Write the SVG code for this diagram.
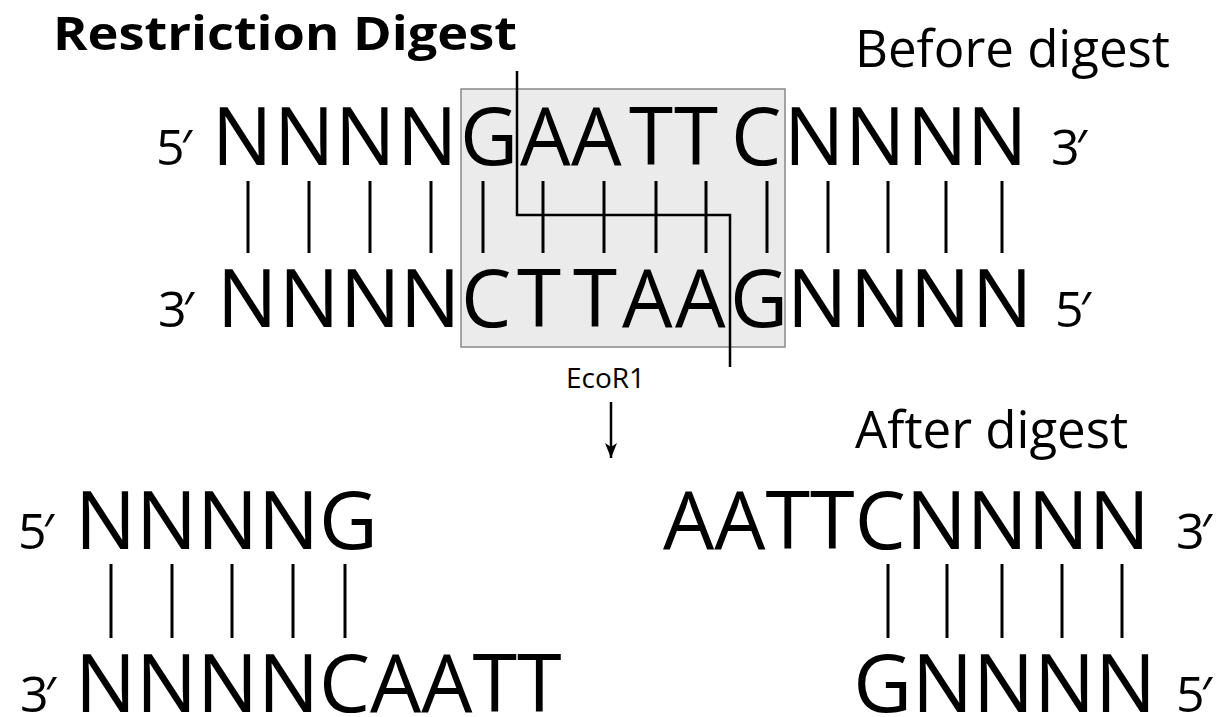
<svg xmlns="http://www.w3.org/2000/svg" width="1224" height="717" viewBox="0 0 1224 717">
<style>
  text { font-family: "Open Sans", "Liberation Sans", sans-serif; fill: #000; }
  .title { font-size: 47px; font-weight: 700; }
  .head { font-size: 51px; }
  .seq { font-size: 80px; }
  .seqb { font-size: 81px; }
  .end { font-size: 50px; }
  .lab { font-size: 28px; }
  .bar { stroke: #000; stroke-width: 3; }
  .cut { fill: none; stroke: #000; stroke-width: 2.5; }
</style>
<defs>
  <marker id="ah" markerWidth="16" markerHeight="14" refX="15" refY="7" orient="auto" markerUnits="userSpaceOnUse" viewBox="0 0 16 14">
    <path d="M0,1 L15,7 L0,13 L4,7 Z" fill="#000"/>
  </marker>
</defs>
<rect width="1224" height="717" fill="#fff"/>

<g id="title"><text class="title" x="53" y="50" textLength="464" lengthAdjust="spacingAndGlyphs">Restriction Digest</text></g>
<g id="before-label"><text class="head" x="855" y="67">Before digest</text></g>
<g id="after-label"><text class="head" x="855" y="448">After digest</text></g>

<g id="site-box"><rect x="461" y="89" width="324" height="258" fill="#ebebeb" stroke="#888" stroke-width="1.5"/></g>

<g id="before-top">
  <text class="end" x="156" y="165">5<tspan dx="-4">′</tspan></text>
  <text class="seq" x="212 274 335 397 460 520 571 629 674 731 784 845 907 967" y="165">NNNNGAATTCNNNN</text>
  <text class="end" x="1051" y="165">3<tspan dx="-4">′</tspan></text>
</g>
<g id="before-bars">
  <line class="bar" x1="248" y1="181" x2="248" y2="253"/>
  <line class="bar" x1="309" y1="181" x2="309" y2="253"/>
  <line class="bar" x1="370" y1="181" x2="370" y2="253"/>
  <line class="bar" x1="431" y1="181" x2="431" y2="253"/>
  <line class="bar" x1="483" y1="181" x2="483" y2="253"/>
  <line class="bar" x1="543" y1="181" x2="543" y2="253"/>
  <line class="bar" x1="604" y1="181" x2="604" y2="253"/>
  <line class="bar" x1="656" y1="181" x2="656" y2="253"/>
  <line class="bar" x1="706" y1="181" x2="706" y2="253"/>
  <line class="bar" x1="767" y1="181" x2="767" y2="253"/>
  <line class="bar" x1="828" y1="181" x2="828" y2="253"/>
  <line class="bar" x1="888" y1="181" x2="888" y2="253"/>
  <line class="bar" x1="946" y1="181" x2="946" y2="253"/>
  <line class="bar" x1="1002" y1="181" x2="1002" y2="253"/>
</g>
<g id="before-bottom">
  <text class="end" x="158" y="327">3<tspan dx="-4">′</tspan></text>
  <text class="seq" x="217 279 340 400 461 517 573 622 675 730 787 850 910 972" y="327">NNNNCTTAAGNNNN</text>
  <text class="end" x="1055" y="327">5<tspan dx="-4">′</tspan></text>
</g>

<g id="cut-line"><polyline class="cut" points="517,71 517,215 730,215 730,367"/></g>

<g id="enzyme"><text class="lab" x="566" y="388">EcoR1</text></g>

<g id="left-fragment">
  <text class="end" x="18" y="549">5<tspan dx="-4">′</tspan></text>
  <text class="seqb" x="75" y="549">NNNNG</text>
  <line class="bar" x1="111" y1="564" x2="111" y2="638"/>
  <line class="bar" x1="172" y1="564" x2="172" y2="638"/>
  <line class="bar" x1="232" y1="564" x2="232" y2="638"/>
  <line class="bar" x1="293" y1="564" x2="293" y2="638"/>
  <line class="bar" x1="345" y1="564" x2="345" y2="638"/>
  <text class="end" x="20" y="712">3<tspan dx="-4">′</tspan></text>
  <text class="seqb" x="75" y="712">NNNNCAATT</text>
</g>

<g id="right-fragment">
  <text class="seqb" x="663" y="549">AATTCNNNN</text>
  <text class="end" x="1176" y="549">3<tspan dx="-4">′</tspan></text>
  <line class="bar" x1="888" y1="564" x2="888" y2="638"/>
  <line class="bar" x1="947" y1="564" x2="947" y2="638"/>
  <line class="bar" x1="1002" y1="564" x2="1002" y2="638"/>
  <line class="bar" x1="1062" y1="564" x2="1062" y2="638"/>
  <line class="bar" x1="1122" y1="564" x2="1122" y2="638"/>
  <text class="seqb" x="1156" y="712" text-anchor="end">GNNNN</text>
  <text class="end" x="1176" y="712">5<tspan dx="-4">′</tspan></text>
</g>

<g id="connectors">
  <line x1="611" y1="402" x2="611" y2="458" stroke="#000" stroke-width="2.5" marker-end="url(#ah)"/>
</g>
</svg>
